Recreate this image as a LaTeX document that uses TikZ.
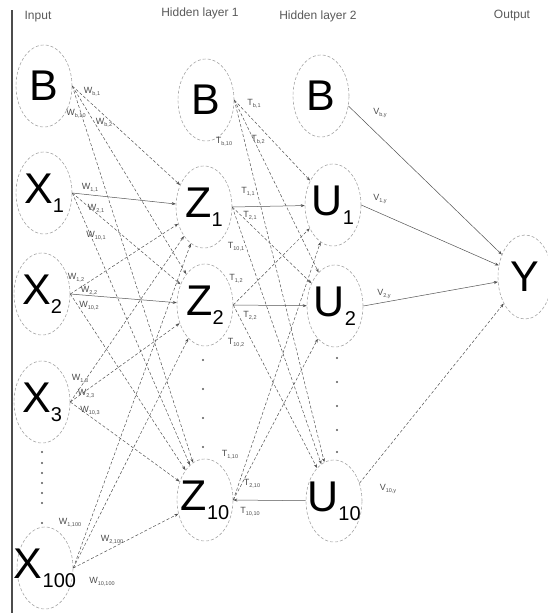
\documentclass[tikz,border=0pt]{standalone}
\usepackage{fontspec}
\setmainfont{Liberation Sans}
\usetikzlibrary{shapes.geometric,arrows.meta}
\newcommand\lsub[1]{\raisebox{-9pt}{\fontsize{20}{20}\selectfont #1}}
\newcommand\wl[2]{#1{\fontsize{5.5}{5.5}\selectfont\raisebox{-2pt}{#2}}}
\begin{document}
\begin{tikzpicture}[x=1pt,y=-1pt,
  neuron/.style={ellipse,draw=gray!70,densely dashed,line width=0.6pt,inner sep=0pt,
    minimum width=56pt,minimum height=82pt,font=\fontsize{43}{43}\selectfont},
  title/.style={font=\fontsize{12}{12}\selectfont,text=gray!70!black},
  lab/.style={font=\fontsize{9}{9}\selectfont,text=gray!60!black,inner sep=0pt},
  edgesolid/.style={draw=gray!65!black,line width=0.5pt,-{Stealth[length=4pt,width=3pt]}},
  edgedash/.style={edgesolid,densely dashed},
  dotmark/.style={circle,fill=gray!70!black,inner sep=0pt,minimum size=2.4pt}]
\useasboundingbox (0,0) rectangle (548,613);
\draw[gray!60!black,line width=1.2pt] (12,10) -- (12,613);
% titles
\node[title] (t1) at (38,17) {Input};
\node[title] (t2) at (200,13) {Hidden layer 1};
\node[title] (t3) at (318,16) {Hidden layer 2};
\node[title] (t4) at (512,16) {Output};
% input layer
\node[neuron] (inB) at (44,86) {\makebox[0pt]{B}};
\node[neuron] (x1) at (44,193) {\makebox[0pt]{X\lsub{1}}};
\node[neuron] (x2) at (42,294) {\makebox[0pt]{X\lsub{2}}};
\node[neuron] (x3) at (42,402) {\makebox[0pt]{X\lsub{3}}};
\node[neuron] (x100) at (45,568) {\makebox[0pt]{X\lsub{100}}};
% hidden layer 1
\node[neuron] (hB) at (206,100) {\makebox[0pt]{B}};
\node[neuron] (z1) at (204,207) {\makebox[0pt]{Z\lsub{1}}};
\node[neuron] (z2) at (205,305) {\makebox[0pt]{Z\lsub{2}}};
\node[neuron] (z10) at (205,500) {\makebox[0pt]{Z\lsub{10}}};
% hidden layer 2
\node[neuron] (oB) at (321,96) {\makebox[0pt]{B}};
\node[neuron] (u1) at (333,205) {\makebox[0pt]{U\lsub{1}}};
\node[neuron] (u2) at (335,306) {\makebox[0pt]{U\lsub{2}}};
\node[neuron] (u10) at (334,501) {\makebox[0pt]{U\lsub{10}}};
% output
\node[neuron,minimum width=54pt,minimum height=84pt] (y) at (525,277) {\makebox[0pt]{Y}};
% dots
\foreach \yy [count=\i] in {452,463,473,483,493,503,523}
  \node[dotmark] (da\i) at (42,\yy) {};
\foreach \yy [count=\i] in {360,389,418,447}
  \node[dotmark] (db\i) at (203,\yy) {};
\foreach \yy [count=\i] in {358,382,406,430,452}
  \node[dotmark] (dc\i) at (337,\yy) {};
% input -> hidden 1
\foreach \s in {inB,x3,x100}
  \foreach \t in {z1,z2,z10}
    \draw[edgedash] (\s.east) -- (\t);
\draw[edgesolid] (x1.east) -- (z1);
\draw[edgedash] (x1.east) -- (z2);
\draw[edgedash] (x1.east) -- (z10);
\draw[edgedash] (x2.east) -- (z1);
\draw[edgesolid] (x2.east) -- (z2);
\draw[edgedash] (x2.east) -- (z10);
% hidden 1 -> hidden 2
\foreach \t in {u1,u2,u10}
  \draw[edgedash] (hB.east) -- (\t);
\draw[edgesolid] (z1.east) -- (u1);
\draw[edgedash] (z1.east) -- (u2);
\draw[edgedash] (z1.east) -- (u10);
\draw[edgedash] (z2.east) -- (u1);
\draw[edgesolid] (z2.east) -- (u2);
\draw[edgedash] (z2.east) -- (u10);
\draw[edgedash] (z10.east) -- (u1);
\draw[edgedash] (z10.east) -- (u2);
\draw[edgesolid] (u10) -- (z10.east);
% hidden 2 -> output
\draw[edgesolid] (oB.-20) -- (y);
\draw[edgesolid] (u1.east) -- (y);
\draw[edgesolid] (u2.east) -- (y);
\draw[edgedash] (u10.35) -- (y);
% weight labels
\node[lab] (lw1) at (92,92) {\wl{W}{b,1}};
\node[lab] (lw2) at (76,114) {\wl{W}{b,10}};
\node[lab] (lw3) at (104,123) {\wl{W}{b,2}};
\node[lab] (lw4) at (90,188) {\wl{W}{1,1}};
\node[lab] (lw5) at (96,209) {\wl{W}{2,1}};
\node[lab] (lw6) at (96,236) {\wl{W}{10,1}};
\node[lab] (lw7) at (76,278) {\wl{W}{1,2}};
\node[lab] (lw8) at (89,291) {\wl{W}{2,2}};
\node[lab] (lw9) at (89,306) {\wl{W}{10,2}};
\node[lab] (lw10) at (80,379) {\wl{W}{1,3}};
\node[lab] (lw11) at (86,394) {\wl{W}{2,3}};
\node[lab] (lw12) at (90,411) {\wl{W}{10,3}};
\node[lab] (lw13) at (70,523) {\wl{W}{1,100}};
\node[lab] (lw14) at (112,540) {\wl{W}{2,100}};
\node[lab] (lw15) at (102,582) {\wl{W}{10,100}};
\node[lab] (lt1) at (254,104) {\wl{T}{b,1}};
\node[lab] (lt2) at (224,142) {\wl{T}{b,10}};
\node[lab] (lt3) at (258,140) {\wl{T}{b,2}};
\node[lab] (lt4) at (248,192) {\wl{T}{1,1}};
\node[lab] (lt5) at (250,216) {\wl{T}{2,1}};
\node[lab] (lt6) at (236,247) {\wl{T}{10,1}};
\node[lab] (lt7) at (236,279) {\wl{T}{1,2}};
\node[lab] (lt8) at (250,316) {\wl{T}{2,2}};
\node[lab] (lt9) at (236,343) {\wl{T}{10,2}};
\node[lab] (lt10) at (230,455) {\wl{T}{1,10}};
\node[lab] (lt11) at (252,484) {\wl{T}{2,10}};
\node[lab] (lt12) at (250,512) {\wl{T}{10,10}};
\node[lab] (lv1) at (380,113) {\wl{V}{b,y}};
\node[lab] (lv2) at (380,199) {\wl{V}{1,y}};
\node[lab] (lv3) at (384,294) {\wl{V}{2,y}};
\node[lab] (lv4) at (388,489) {\wl{V}{10,y}};
\end{tikzpicture}
\end{document}
